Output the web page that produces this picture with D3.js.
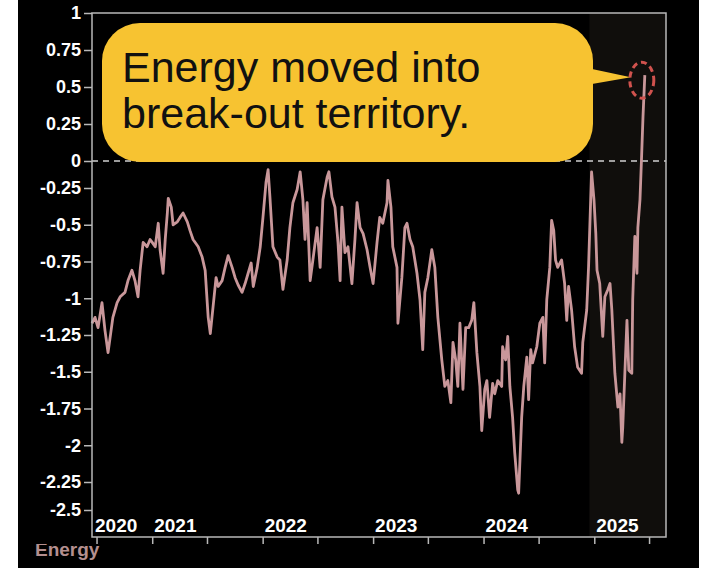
<!DOCTYPE html>
<html><head><meta charset="utf-8">
<script src="https://cdn.jsdelivr.net/npm/d3@7"></script>
<style>html,body{margin:0;padding:0;background:#fff;}svg{display:block}</style>
</head><body>
<svg id="c" width="711" height="568"></svg>
<script>
// ---------- data ----------
const seriesName = "Energy";
const dates = [
"2020-06-16","2020-06-26","2020-07-06","2020-07-19","2020-07-29","2020-08-08","2020-08-18","2020-08-24","2020-09-07","2020-09-17",
"2020-10-03","2020-10-13","2020-10-26","2020-11-05","2020-11-15","2020-11-22","2020-12-02","2020-12-15","2020-12-25","2021-01-01",
"2021-01-11","2021-01-21","2021-01-27","2021-02-06","2021-02-13","2021-02-20","2021-02-23","2021-03-05","2021-03-11","2021-03-25",
"2021-04-03","2021-04-13","2021-04-27","2021-05-06","2021-05-16","2021-06-02","2021-06-15","2021-06-25","2021-07-05","2021-07-12",
"2021-07-21","2021-07-31","2021-08-07","2021-08-20","2021-08-30","2021-09-09","2021-09-22","2021-10-02","2021-10-12","2021-10-25",
"2021-11-04","2021-11-14","2021-11-24","2021-12-01","2021-12-14","2021-12-24","2022-01-02","2022-01-12","2022-01-19","2022-01-25",
"2022-02-04","2022-02-18","2022-02-27","2022-03-09","2022-03-23","2022-04-01","2022-04-11","2022-04-25","2022-05-05","2022-05-14",
"2022-05-21","2022-05-28","2022-06-07","2022-06-16","2022-06-30","2022-07-10","2022-07-19","2022-08-02","2022-08-08","2022-08-18",
"2022-08-28","2022-09-07","2022-09-14","2022-09-20","2022-09-30","2022-10-10","2022-10-23","2022-11-02","2022-11-09","2022-11-19",
"2022-11-29","2022-12-12","2022-12-22","2023-01-01","2023-01-14","2023-01-23","2023-02-02","2023-02-16","2023-02-19","2023-03-01",
"2023-03-07","2023-03-21","2023-03-24","2023-04-06","2023-04-16","2023-04-23","2023-05-03","2023-05-12","2023-05-26","2023-06-05",
"2023-06-14","2023-06-21","2023-07-01","2023-07-14","2023-07-24","2023-08-03","2023-08-16","2023-08-26","2023-09-05","2023-09-15",
"2023-09-22","2023-10-01","2023-10-08","2023-10-15","2023-10-25","2023-11-03","2023-11-13","2023-11-23","2023-11-30","2023-12-10",
"2023-12-20","2023-12-26","2024-01-05","2024-01-12","2024-01-21","2024-01-31","2024-02-07","2024-02-17","2024-03-01","2024-03-04",
"2024-03-14","2024-03-21","2024-03-28","2024-04-06","2024-04-13","2024-04-23","2024-04-26","2024-05-06","2024-05-13","2024-05-23",
"2024-05-29","2024-06-05","2024-06-11","2024-06-25","2024-07-05","2024-07-15","2024-07-21","2024-07-28","2024-08-07","2024-08-13",
"2024-08-20","2024-08-26","2024-09-02","2024-09-15","2024-09-25","2024-10-02","2024-10-08","2024-10-18","2024-10-28","2024-11-07",
"2024-11-20","2024-11-24","2024-12-07","2024-12-13","2024-12-23","2024-12-31","2025-01-06","2025-01-10","2025-01-19","2025-01-29",
"2025-02-05","2025-02-15","2025-02-22","2025-02-28","2025-03-10","2025-03-20","2025-03-27","2025-04-02","2025-04-05","2025-04-12",
"2025-04-19","2025-04-25","2025-05-05","2025-05-08","2025-05-15","2025-05-22","2025-05-25","2025-06-01","2025-06-06","2025-06-11",
"2025-06-17"
];
const values = [
-1.17,-1.13,-1.20,-1.03,-1.22,-1.37,-1.22,-1.13,-1.03,-0.99,
-0.96,-0.88,-0.81,-0.88,-0.99,-0.81,-0.62,-0.65,-0.60,-0.62,
-0.65,-0.49,-0.67,-0.83,-0.60,-0.42,-0.32,-0.38,-0.50,-0.48,
-0.45,-0.42,-0.48,-0.54,-0.60,-0.65,-0.72,-0.81,-1.13,-1.24,
-1.06,-0.86,-0.92,-0.88,-0.79,-0.71,-0.79,-0.86,-0.91,-0.96,
-0.90,-0.83,-0.76,-0.92,-0.79,-0.65,-0.45,-0.20,-0.08,-0.31,
-0.65,-0.72,-0.74,-0.94,-0.74,-0.52,-0.35,-0.26,-0.10,-0.33,
-0.60,-0.35,-0.88,-0.74,-0.52,-0.79,-0.33,-0.15,-0.10,-0.31,
-0.38,-0.62,-0.88,-0.38,-0.69,-0.65,-0.90,-0.60,-0.35,-0.52,
-0.56,-0.67,-0.79,-0.90,-0.62,-0.45,-0.49,-0.35,-0.18,-0.38,
-0.65,-0.79,-1.17,-0.86,-0.52,-0.49,-0.60,-0.65,-0.83,-1.01,
-1.35,-0.96,-0.86,-0.67,-0.79,-1.13,-1.42,-1.60,-1.56,-1.71,
-1.30,-1.42,-1.60,-1.17,-1.62,-1.20,-1.20,-1.15,-1.03,-1.37,
-1.60,-1.90,-1.62,-1.56,-1.81,-1.58,-1.65,-1.56,-1.60,-1.33,
-1.42,-1.26,-1.60,-1.81,-2.05,-2.32,-2.35,-1.81,-1.60,-1.40,
-1.69,-1.35,-1.44,-1.33,-1.17,-1.13,-1.44,-1.01,-0.79,-0.47,
-0.54,-0.74,-0.79,-0.74,-0.90,-1.15,-0.92,-1.08,-1.33,-1.47,
-1.51,-1.30,-1.08,-0.79,-0.10,-0.33,-0.56,-0.81,-0.90,-1.26,
-0.99,-0.94,-0.90,-1.08,-1.51,-1.74,-1.65,-1.98,-1.88,-1.51,
-1.15,-1.49,-1.51,-1.01,-0.58,-0.83,-0.52,-0.33,0.01,0.30,
0.58
];
const yTicks = [1,0.75,0.5,0.25,0,-0.25,-0.5,-0.75,-1,-1.25,-1.5,-1.75,-2,-2.25,-2.5];
const yearLabels = ["2020","2021","2022","2023","2024","2025"];
const domainStart = "2020-06-16", domainEnd = "2025-08-26";
const highlightStart = "2024-12-16";
const noteLines = ["Energy moved into","break-out territory."];

// ---------- drawing ----------
const parse = d3.timeParse("%Y-%m-%d");
const data = dates.map((d,i)=>({date:parse(d), value:values[i]}));
const svg = d3.select("#c");
const L=92, R=666, T=13, B=537;

const x = d3.scaleTime().domain([parse(domainStart), parse(domainEnd)]).range([L,R]);
// the source chart's value axis is slightly uneven; follow its tick positions piecewise
const y = d3.scaleLinear().domain([1,0,-0.25,-2.25,-2.5]).range([T,161,188,482,510]);

svg.append("rect").attr("x",18).attr("y",0).attr("width",681).attr("height",568).attr("fill","#000");

svg.append("rect").attr("x",x(parse(highlightStart))).attr("y",T)
  .attr("width",R-x(parse(highlightStart))).attr("height",B-T).attr("fill","#100e0c");

svg.append("line").attr("x1",L).attr("x2",R).attr("y1",y(0)).attr("y2",y(0))
  .attr("stroke","#d0d0d0").attr("stroke-width",1.5).attr("stroke-dasharray","6,5");

svg.append("path").datum(data)
  .attr("d", d3.line().x(d=>x(d.date)).y(d=>y(d.value)))
  .attr("fill","none").attr("stroke","#c9979a").attr("stroke-width",2.8).attr("stroke-linejoin","round");

svg.append("rect").attr("x",L).attr("y",T).attr("width",R-L).attr("height",B-T)
  .attr("fill","none").attr("stroke","#b8b8b8").attr("stroke-width",1.5);

const fmt = v => (v<0?"-":"") + String(Math.abs(v));
const yAx = svg.append("g").attr("transform",`translate(${L},0)`)
  .call(d3.axisLeft(y).tickValues(yTicks).tickSize(8).tickPadding(3).tickFormat(fmt));
yAx.select(".domain").remove();
yAx.selectAll("line").attr("stroke","#b8b8b8").attr("stroke-width",1.5);
yAx.selectAll("text").attr("fill","#fff").attr("font-family","Liberation Sans, Arial, sans-serif")
  .attr("font-weight","bold").attr("font-size",18);

const xAx = svg.append("g").attr("transform",`translate(0,${B})`)
  .call(d3.axisBottom(x).ticks(d3.timeMonth.every(6)).tickSize(7).tickFormat(""));
xAx.select(".domain").remove();
xAx.selectAll("line").attr("stroke","#b8b8b8").attr("stroke-width",1.5);

svg.append("g").selectAll("text").data(yearLabels).join("text")
  .attr("x", d => Math.max(x(parse(d+"-01-01")), L+1) + 2)
  .attr("y", B-5)
  .attr("fill","#fff").attr("font-family","Liberation Sans, Arial, sans-serif")
  .attr("font-weight","bold").attr("font-size",19)
  .text(d=>d);

// series name, partly hidden at top as in the source
svg.append("clipPath").attr("id","nameClip").append("rect")
  .attr("x",18).attr("y",544).attr("width",200).attr("height",24);
svg.append("text").attr("clip-path","url(#nameClip)")
  .attr("x",35).attr("y",556).attr("fill","#b48f8f")
  .attr("font-family","Liberation Sans, Arial, sans-serif").attr("font-weight","bold").attr("font-size",19)
  .text(seriesName);

// annotation
const last = data[data.length-1];
const ex = x(last.date)-3, ey = y(last.value)+5, erx=12, ery=18;
svg.append("rect").attr("x",102).attr("y",23).attr("width",491).attr("height",139).attr("rx",38)
  .attr("fill","#f7c331");
svg.append("polygon").attr("points",`592,69 592,84 ${ex-erx+1},${ey-3}`).attr("fill","#f7c331");
svg.append("g").selectAll("text").data(noteLines).join("text")
  .attr("x",122).attr("y",(d,i)=>82+i*46)
  .attr("fill","#111").attr("font-family","Liberation Sans, Arial, sans-serif").attr("font-size",43)
  .text(d=>d);
svg.append("ellipse").attr("cx",ex).attr("cy",ey).attr("rx",erx).attr("ry",ery)
  .attr("fill","none").attr("stroke","#d0524e").attr("stroke-width",3).attr("stroke-dasharray","6,4");
</script>
</body></html>
